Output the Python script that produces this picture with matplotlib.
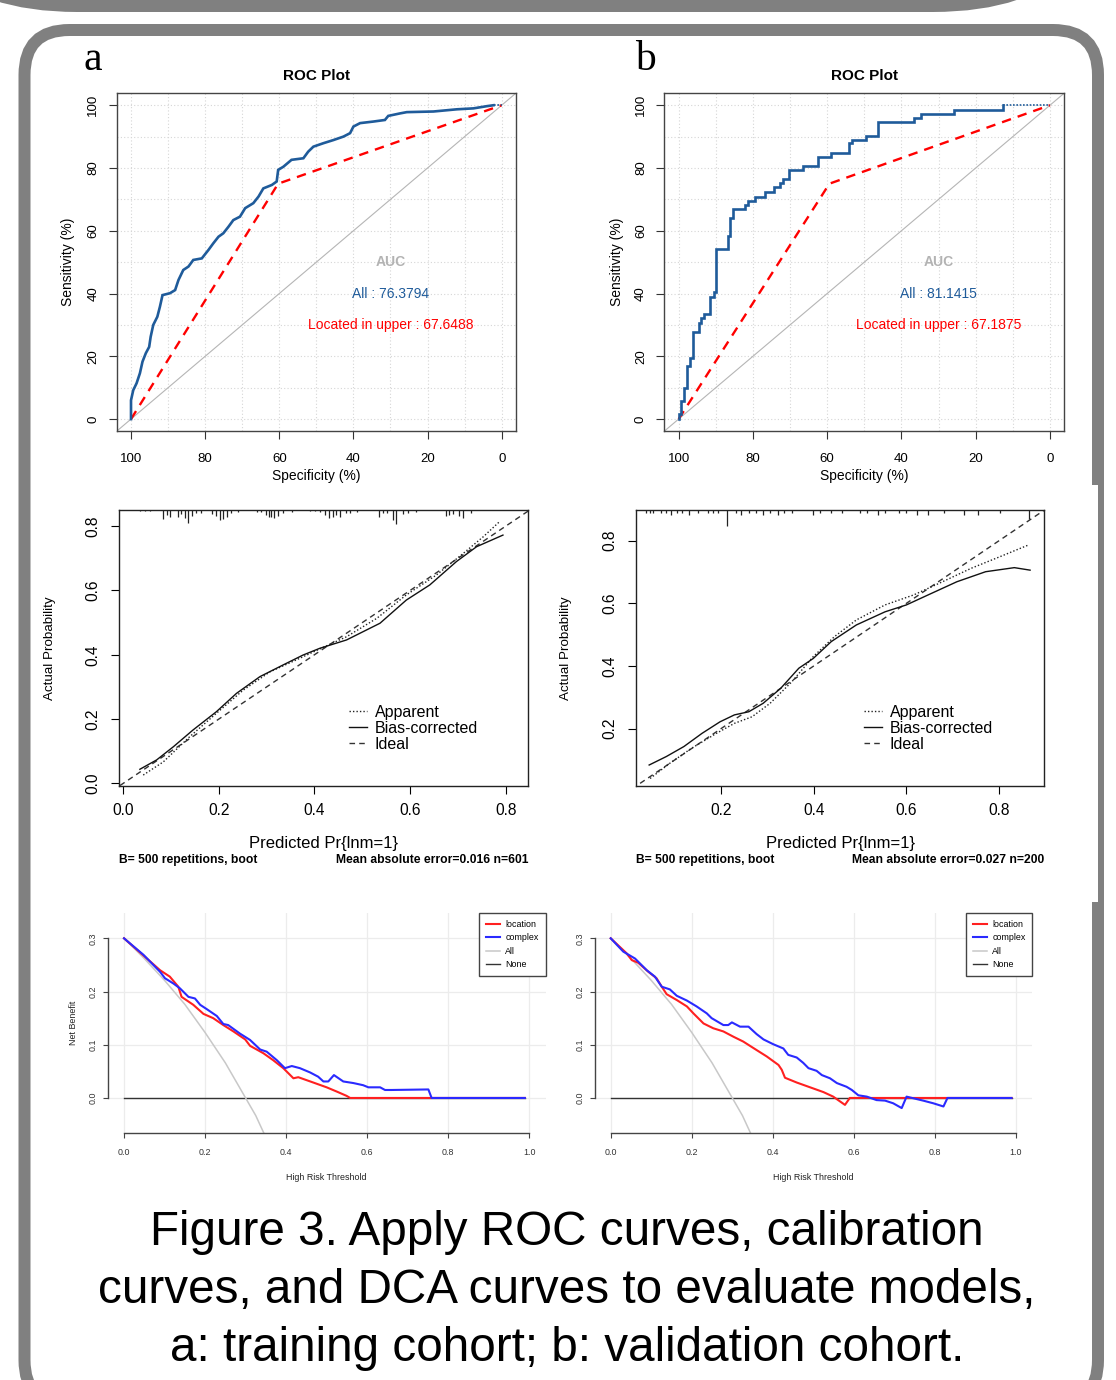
import matplotlib
matplotlib.use("Agg")
import matplotlib.pyplot as plt
from matplotlib.patches import FancyBboxPatch, Rectangle
from matplotlib import font_manager

# ---------------- data ----------------
# ROC (a: training, b: validation) -- specificity / sensitivity in %
ROC_A_SPEC = [100, 100, 99.4, 98.5, 97.6, 96.9, 96.0, 95.1, 94.7, 94.0, 92.9, 92.2, 91.5, 89.5, 88.1,
              87.2, 85.9, 84.5, 83.2, 80.9, 79.1, 77.8, 76.4, 75.1, 73.7, 72.4, 70.6, 69.2, 67.0, 65.6,
              64.3, 62.0, 60.7, 60.3, 58.9, 56.7, 53.5, 52.2, 50.8, 48.1, 45.4, 42.7, 40.9, 40.0, 38.2,
              34.6, 31.5, 30.6, 27.4, 25.6, 18.4, 12.1, 7.6, 4.0, 2.2]
ROC_A_SENS = [0, 6.0, 9.2, 11.4, 14.6, 18.3, 21.0, 23.0, 26.2, 30.0, 32.6, 35.8, 39.5, 40.1, 41.1,
              44.3, 47.5, 48.6, 50.7, 51.2, 53.9, 56.0, 58.1, 59.2, 61.3, 63.4, 64.5, 67.2, 68.8, 70.9,
              73.5, 74.6, 75.7, 79.4, 80.4, 82.6, 83.1, 85.2, 86.8, 87.9, 88.9, 90.0, 91.1, 93.2, 94.3,
              94.8, 95.3, 96.6, 97.4, 97.8, 98.0, 98.7, 99.0, 99.7, 100]
ROC_A_TAIL_SPEC = [2.2, 0]
ROC_A_TAIL_SENS = [100, 100]

ROC_B_SPEC = [100, 100, 99.3, 98.5, 97.8, 97.0, 96.0, 94.4, 94.0, 93.1, 91.5, 90.6, 89.9, 86.8, 86.1,
              85.3, 82.0, 81.4, 79.3, 76.7, 74.2, 72.8, 71.9, 70.3, 66.5, 62.5, 58.9, 54.0, 53.2, 49.5,
              46.3, 36.7, 34.6, 25.9, 12.6]
ROC_B_SENS = [0, 1.5, 5.7, 9.8, 16.9, 19.6, 27.8, 30.5, 32.1, 33.5, 39.0, 40.4, 54.1, 58.3, 64.0,
              66.8, 68.2, 69.6, 70.9, 72.4, 73.9, 75.1, 76.5, 79.4, 80.7, 83.4, 84.7, 87.9, 88.9, 90.2,
              94.5, 95.9, 97.2, 98.5, 100]
ROC_B_TAIL_SPEC = [12.6, 0]
ROC_B_TAIL_SENS = [100, 100]

UPPER_A_SPEC = [100, 60.3, 0]
UPPER_A_SENS = [0, 75.0, 100]
UPPER_B_SPEC = [100, 59.4, 0]
UPPER_B_SENS = [0, 75.0, 100]

AUC_A = ["All : 76.3794", "Located in upper : 67.6488"]
AUC_B = ["All : 81.1415", "Located in upper : 67.1875"]

# Calibration curves
CAL_A_AP_X = [0.042, 0.084, 0.139, 0.195, 0.251, 0.307, 0.362, 0.411, 0.467, 0.530, 0.592, 0.655, 0.711, 0.753, 0.787]
CAL_A_AP_Y = [0.026, 0.067, 0.145, 0.218, 0.290, 0.347, 0.384, 0.418, 0.456, 0.513, 0.586, 0.648, 0.715, 0.767, 0.814]
CAL_A_BC_X = [0.035, 0.070, 0.105, 0.146, 0.195, 0.237, 0.286, 0.334, 0.376, 0.411, 0.467, 0.537, 0.592, 0.641, 0.697, 0.739, 0.794]
CAL_A_BC_Y = [0.044, 0.073, 0.114, 0.166, 0.223, 0.280, 0.332, 0.368, 0.399, 0.420, 0.446, 0.498, 0.570, 0.617, 0.690, 0.736, 0.772]
RUG_A_X = [0.035, 0.045, 0.056, 0.084, 0.092, 0.098, 0.114, 0.121, 0.129, 0.136, 0.144, 0.153, 0.162, 0.185, 0.195,
           0.202, 0.209, 0.217, 0.226, 0.240, 0.279, 0.289, 0.298, 0.304, 0.309, 0.315, 0.324, 0.334, 0.352, 0.390,
           0.401, 0.411, 0.422, 0.430, 0.438, 0.445, 0.454, 0.465, 0.475, 0.488, 0.535, 0.544, 0.551, 0.564, 0.571,
           0.585, 0.596, 0.613, 0.675, 0.682, 0.689, 0.702, 0.711, 0.728]
RUG_A_FREQ = [1.3, 1.3, 1.3, 9, 5, 7, 7, 4, 8, 13, 6, 3, 3, 4, 6, 10, 9, 7, 3, 2, 2, 2, 5, 7, 7, 8, 6, 3, 2, 1.3,
              1.3, 2, 5, 8, 7, 5, 7, 3, 3, 2, 7, 3, 3, 10, 14, 4, 3, 2, 6, 5, 4, 6, 8, 3]

CAL_B_AP_X = [0.047, 0.089, 0.136, 0.190, 0.229, 0.267, 0.306, 0.353, 0.399, 0.445, 0.492, 0.554, 0.616, 0.678, 0.740, 0.802, 0.863]
CAL_B_AP_Y = [0.041, 0.089, 0.137, 0.185, 0.217, 0.238, 0.281, 0.350, 0.430, 0.494, 0.547, 0.595, 0.627, 0.669, 0.712, 0.749, 0.786]
CAL_B_BC_X = [0.045, 0.082, 0.120, 0.159, 0.198, 0.229, 0.260, 0.291, 0.329, 0.368, 0.399, 0.438, 0.492, 0.554, 0.600,
              0.647, 0.709, 0.771, 0.833, 0.867]
CAL_B_BC_Y = [0.084, 0.111, 0.143, 0.185, 0.222, 0.244, 0.254, 0.281, 0.329, 0.393, 0.424, 0.478, 0.531, 0.573, 0.595,
              0.627, 0.669, 0.701, 0.714, 0.706]
RUG_B_X = [0.039, 0.047, 0.054, 0.070, 0.082, 0.093, 0.105, 0.116, 0.132, 0.151, 0.171, 0.182, 0.194, 0.213, 0.233,
           0.244, 0.260, 0.275, 0.291, 0.306, 0.322, 0.337, 0.353, 0.399, 0.414, 0.438, 0.461, 0.500, 0.515, 0.538,
           0.554, 0.585, 0.600, 0.623, 0.647, 0.682, 0.724, 0.755, 0.802, 0.864]
RUG_B_FREQ = [2.5, 2.5, 2.5, 3, 3, 4.5, 3, 3, 4.5, 3, 3, 3, 3, 16, 3, 4.5, 3, 3, 4.5, 3, 5, 3, 3, 4.5, 3, 3, 3, 3, 3, 4.5,
              3, 3, 3, 4.5, 4.5, 3, 4.5, 4.5, 3, 9]
CAL_NOTES_A = ["B= 500 repetitions, boot", "Mean absolute error=0.016 n=601"]
CAL_NOTES_B = ["B= 500 repetitions, boot", "Mean absolute error=0.027 n=200"]

# Decision curves
DCA_ALL_X = [0.0, 0.05, 0.10, 0.15, 0.20, 0.25, 0.30, 0.325, 0.345]
DCA_ALL_Y = [0.300, 0.262, 0.221, 0.176, 0.123, 0.066, 0.0, -0.033, -0.066]
DCA_NONE_X = [0.0, 0.99]
DCA_NONE_Y = [0.0, 0.0]

DCA_A_LOC_X = [0, 0.052, 0.089, 0.113, 0.134, 0.142, 0.171, 0.196, 0.220, 0.245, 0.270, 0.299, 0.311, 0.344,
               0.368, 0.393, 0.418, 0.430, 0.467, 0.500, 0.525, 0.549, 0.558, 0.989]
DCA_A_LOC_Y = [0.300, 0.265, 0.240, 0.228, 0.209, 0.190, 0.175, 0.158, 0.150, 0.137, 0.125, 0.110, 0.098, 0.084,
               0.071, 0.056, 0.037, 0.039, 0.029, 0.020, 0.012, 0.004, 0.0, 0.0]
DCA_A_CPX_X = [0, 0.048, 0.089, 0.101, 0.122, 0.138, 0.159, 0.175, 0.188, 0.204, 0.229, 0.245, 0.257, 0.286,
               0.311, 0.336, 0.352, 0.377, 0.397, 0.414, 0.434, 0.459, 0.479, 0.492, 0.504, 0.518, 0.541, 0.566,
               0.590, 0.603, 0.632, 0.644, 0.660, 0.751, 0.759, 0.989]
DCA_A_CPX_Y = [0.300, 0.269, 0.237, 0.225, 0.215, 0.206, 0.190, 0.187, 0.175, 0.167, 0.154, 0.139, 0.137, 0.121,
               0.109, 0.091, 0.087, 0.071, 0.056, 0.060, 0.056, 0.048, 0.040, 0.031, 0.031, 0.043, 0.031, 0.028,
               0.024, 0.020, 0.020, 0.015, 0.015, 0.016, 0.0, 0.0]

DCA_B_LOC_X = [0, 0.039, 0.052, 0.068, 0.093, 0.113, 0.126, 0.138, 0.163, 0.188, 0.204, 0.229, 0.253, 0.278,
               0.303, 0.327, 0.360, 0.385, 0.414, 0.422, 0.430, 0.459, 0.492, 0.525, 0.549, 0.578, 0.590, 0.989]
DCA_B_LOC_Y = [0.300, 0.272, 0.259, 0.254, 0.237, 0.225, 0.209, 0.195, 0.184, 0.172, 0.159, 0.140, 0.131, 0.125,
               0.115, 0.106, 0.090, 0.078, 0.062, 0.053, 0.038, 0.029, 0.020, 0.011, 0.0025, -0.013, 0.0, 0.0]
DCA_B_CPX_X = [0, 0.031, 0.060, 0.089, 0.109, 0.126, 0.146, 0.163, 0.188, 0.212, 0.237, 0.249, 0.278, 0.290,
               0.299, 0.319, 0.340, 0.360, 0.377, 0.401, 0.426, 0.438, 0.459, 0.475, 0.488, 0.508, 0.521, 0.541,
               0.558, 0.582, 0.595, 0.611, 0.632, 0.656, 0.677, 0.697, 0.718, 0.730, 0.747, 0.771, 0.796, 0.821,
               0.831, 0.989]
DCA_B_CPX_Y = [0.300, 0.275, 0.262, 0.240, 0.228, 0.209, 0.204, 0.192, 0.183, 0.172, 0.159, 0.150, 0.137, 0.137,
               0.142, 0.134, 0.134, 0.120, 0.110, 0.101, 0.093, 0.081, 0.076, 0.066, 0.056, 0.051, 0.043, 0.037,
               0.028, 0.021, 0.015, 0.005, 0.0025, -0.004, -0.005, -0.010, -0.019, 0.0025, -0.0006, -0.005,
               -0.010, -0.016, 0.0, 0.0]
DCA_LABELS = ["location", "complex", "All", "None"]

CAPTION = ["Figure 3. Apply ROC curves, calibration",
           "curves, and DCA curves to evaluate models,",
           "a: training cohort; b: validation cohort."]

# ---------------- fonts ----------------
names = {f.name for f in font_manager.fontManager.ttflist}
SANS = "Liberation Sans" if "Liberation Sans" in names else "DejaVu Sans"
NARROW = "Liberation Sans Narrow" if "Liberation Sans Narrow" in names else SANS
SERIF = "Liberation Serif" if "Liberation Serif" in names else "DejaVu Serif"
plt.rcParams["font.family"] = [SANS, "DejaVu Sans"]
DCA_FS = 7.2 if NARROW != SANS else 6.4

W, H = 1116, 1380
fig = plt.figure(figsize=(W / 100, H / 100), dpi=100)
PT = 72 / 100  # points per pixel


def px_box(l, t, r, b):
    return [l / W, 1 - b / H, (r - l) / W, (b - t) / H]


# ---------------- background frame ----------------
bg = fig.add_axes([0, 0, 1, 1], zorder=0)
bg.set_xlim(0, W)
bg.set_ylim(H, 0)
bg.axis("off")
GRAY = "#808080"
bg.add_patch(FancyBboxPatch((-116, -400), 1242, 412, boxstyle="round,pad=0,rounding_size=193",
                            fc=GRAY, ec="none"))
bg.add_patch(FancyBboxPatch((24.5, 30), 1073.5, 1375, boxstyle="round,pad=0,rounding_size=45",
                            fc="white", ec=GRAY, lw=12 * PT))
bg.add_patch(Rectangle((1091, 485), 7, 417, fc="white", ec="none"))

for letter, x in (("a", 93), ("b", 645)):
    bg.text(x, 70, letter, family=SERIF, fontsize=30, ha="center", va="baseline", color="black")

for i, line in enumerate(CAPTION):
    bg.text(567, 1245 + i * 58, line, fontsize=34.3, ha="center", va="baseline", color="black")

# ---------------- ROC panels ----------------
BLUE = "#1f5b9a"
RED = "#ff0000"


def roc_panel(box, spec, sens, tail_spec, tail_sens, up_spec, up_sens, auc_txt, stepped, ylab_x):
    ax = fig.add_axes(px_box(*box))
    ax.set_xlim(103.86, -3.86)
    ax.set_ylim(-3.8, 103.8)
    for v in range(0, 101, 10):
        ax.axvline(v, color="#d6d6d6", lw=0.8, ls=(0, (1, 2)), zorder=0)
        ax.axhline(v, color="#d6d6d6", lw=0.8, ls=(0, (1, 2)), zorder=0)
    ax.plot([103.86, -3.86], [-3.86, 103.86], color="#b5b5b5", lw=0.8, zorder=1)
    ax.plot(up_spec, up_sens, color=RED, lw=1.7, ls=(0, (4, 3)), zorder=2)
    ax.plot(spec, sens, color=BLUE, lw=1.9, drawstyle="steps-post" if stepped else "default",
            solid_joinstyle="miter", zorder=3)
    ax.plot(tail_spec, tail_sens, color=BLUE, lw=1.2, ls=(0, (1, 1)), zorder=3)
    ax.text(30, 50, "AUC", color="#b3b3b3", fontsize=10, fontweight="bold", ha="center", va="center")
    ax.text(30, 40, auc_txt[0], color=BLUE, fontsize=10, ha="center", va="center")
    ax.text(30, 30, auc_txt[1], color=RED, fontsize=10, ha="center", va="center")
    ax.set_xticks([100, 80, 60, 40, 20, 0])
    ax.set_yticks([0, 20, 40, 60, 80, 100])
    ax.tick_params(length=5.5, width=0.8, color="#333333", labelsize=9.5)
    ax.tick_params(axis="x", pad=10.5)
    ax.tick_params(axis="y", pad=7)
    for lab in ax.get_yticklabels():
        lab.set_rotation(90)
        lab.set_va("center")
    for s in ax.spines.values():
        s.set_color("#444444")
        s.set_linewidth(1.0)
    ax.set_title("ROC Plot", fontsize=11, fontweight="bold", pad=0, y=1.039)
    ax.set_xlabel("Specificity (%)", fontsize=10, va="center")
    ax.xaxis.set_label_coords(0.5, (box[3] - 476) / (box[3] - box[1]))
    ax.set_ylabel("Sensitivity (%)", fontsize=10, va="center")
    ax.yaxis.set_label_coords((ylab_x - box[0]) / (box[2] - box[0]), 0.5)
    return ax


roc_panel((116.7, 93.3, 516, 431), ROC_A_SPEC, ROC_A_SENS, ROC_A_TAIL_SPEC, ROC_A_TAIL_SENS,
          UPPER_A_SPEC, UPPER_A_SENS, AUC_A, False, 68)
roc_panel((664.3, 93.3, 1064.3, 431), ROC_B_SPEC, ROC_B_SENS, ROC_B_TAIL_SPEC, ROC_B_TAIL_SENS,
          UPPER_B_SPEC, UPPER_B_SENS, AUC_B, True, 617)


# ---------------- calibration panels ----------------
def cal_panel(box, lims, xt, yt, ap_x, ap_y, bc_x, bc_y, rug_x, rug_f, notes, leg_x, ylab_x):
    ax = fig.add_axes(px_box(*box))
    ax.set_xlim(lims[0], lims[1])
    ax.set_ylim(lims[2], lims[3])
    wpx = box[2] - box[0]
    hpx = box[3] - box[1]
    ideal, = ax.plot([-1, 2], [-1, 2], color="#333333", lw=1.0, ls=(0, (4, 3)), label="Ideal")
    app, = ax.plot(ap_x, ap_y, color="#222222", lw=1.0, ls=(0, (1, 1.5)), label="Apparent")
    bc, = ax.plot(bc_x, bc_y, color="#111111", lw=1.0, label="Bias-corrected")
    ax.vlines(rug_x, [1 - f / hpx for f in rug_f], 1, transform=ax.get_xaxis_transform(),
              color="#222222", lw=0.9)
    ax.set_xticks(xt)
    ax.set_xticklabels(["%.1f" % v for v in xt])
    ax.set_yticks(yt)
    ax.set_yticklabels(["%.1f" % v for v in yt])
    ax.tick_params(axis="x", length=5.5, width=0.8, labelsize=11.2, pad=7)
    ax.tick_params(axis="y", length=5.5, width=0.8, labelsize=11.2, pad=8)
    for lab in ax.get_yticklabels():
        lab.set_rotation(90)
        lab.set_va("center")
    for s in ax.spines.values():
        s.set_color("#222222")
        s.set_linewidth(1.0)
    ax.set_xlabel("Predicted Pr{lnm=1}", fontsize=12, va="center")
    ax.xaxis.set_label_coords(0.5, (box[3] - 843) / hpx)
    ax.set_ylabel("Actual Probability", fontsize=9.6, va="center")
    ax.yaxis.set_label_coords((ylab_x - box[0]) / wpx, 0.5)
    ax.text(0, (box[3] - 860) / hpx, notes[0], transform=ax.transAxes, fontsize=8.7, fontweight="bold",
            ha="left", va="center")
    ax.text(1, (box[3] - 860) / hpx, notes[1], transform=ax.transAxes, fontsize=8.7, fontweight="bold",
            ha="right", va="center")
    ax.legend(handles=[app, bc, ideal], loc="upper left",
              bbox_to_anchor=((leg_x - box[0]) / wpx, (box[3] - 705) / hpx),
              frameon=False, fontsize=11.5, handlelength=1.1, handletextpad=0.5, labelspacing=0.05,
              borderpad=0, borderaxespad=0)
    return ax


cal_panel((119.3, 510, 528.3, 786), (-0.008, 0.847, -0.008, 0.85), [0.0, 0.2, 0.4, 0.6, 0.8],
          [0.0, 0.2, 0.4, 0.6, 0.8], CAL_A_AP_X, CAL_A_AP_Y, CAL_A_BC_X, CAL_A_BC_Y, RUG_A_X, RUG_A_FREQ,
          CAL_NOTES_A, 349, 50)
cal_panel((636, 510, 1044, 786), (0.0166, 0.897, 0.017, 0.898), [0.2, 0.4, 0.6, 0.8],
          [0.2, 0.4, 0.6, 0.8], CAL_B_AP_X, CAL_B_AP_Y, CAL_B_BC_X, CAL_B_BC_Y, RUG_B_X, RUG_B_FREQ,
          CAL_NOTES_B, 864, 566)


# ---------------- DCA panels ----------------
def dca_panel(box, loc_x, loc_y, cpx_x, cpx_y, show_ylabel):
    ax = fig.add_axes(px_box(*box))
    ax.set_xlim(-0.04, 1.04)
    ax.set_ylim(-0.0664, 0.347)
    ax.set_xticks([0.0, 0.2, 0.4, 0.6, 0.8, 1.0])
    ax.set_xticklabels(["0.0", "0.2", "0.4", "0.6", "0.8", "1.0"])
    ax.set_yticks([0.0, 0.1, 0.2, 0.3])
    ax.set_yticklabels(["0.0", "0.1", "0.2", "0.3"])
    ax.grid(True, color="#ececec", lw=0.9)
    ax.set_axisbelow(True)
    for k in ("top", "right"):
        ax.spines[k].set_visible(False)
    ax.spines["left"].set_bounds(0, 0.3)
    ax.spines["bottom"].set_bounds(0, 1.0)
    for k in ("left", "bottom"):
        ax.spines[k].set_color("#444444")
        ax.spines[k].set_linewidth(1.0)
    ax.tick_params(axis="x", length=3.6, width=0.8, color="#444444", labelsize=DCA_FS, pad=7,
                   labelcolor="#333333")
    ax.tick_params(axis="y", length=3.6, width=0.8, color="#444444", labelsize=DCA_FS, pad=3.5,
                   labelcolor="#333333")
    for lab in ax.get_xticklabels() + ax.get_yticklabels():
        lab.set_family([NARROW, SANS])
    for lab in ax.get_yticklabels():
        lab.set_rotation(90)
        lab.set_va("center")
    nn, = ax.plot(DCA_NONE_X, DCA_NONE_Y, color="#333333", lw=1.0, label=DCA_LABELS[3])
    al, = ax.plot(DCA_ALL_X, DCA_ALL_Y, color="#c8c8c8", lw=1.1, label=DCA_LABELS[2])
    lo, = ax.plot(loc_x, loc_y, color="#ff2020", lw=1.5, label=DCA_LABELS[0])
    cp, = ax.plot(cpx_x, cpx_y, color="#2a2aff", lw=1.5, label=DCA_LABELS[1])
    hpx = box[3] - box[1]
    ax.set_xlabel("High Risk Threshold", fontsize=DCA_FS, family=[NARROW, SANS],
                  color="#222222", va="center")
    ax.xaxis.set_label_coords(0.5, (box[3] - 1178) / hpx)
    if show_ylabel:
        ax.set_ylabel("Net Benefit", fontsize=DCA_FS, family=[NARROW, SANS],
                      color="#222222", va="center")
        ax.yaxis.set_label_coords((73 - box[0]) / (box[2] - box[0]), 0.5)
    leg = ax.legend(handles=[lo, cp, al, nn], loc="upper right", bbox_to_anchor=(1.0, 1.0),
                    frameon=True, fancybox=False, edgecolor="#444444", framealpha=1,
                    prop={"family": [NARROW, SANS], "size": DCA_FS},
                    handlelength=1.6, handletextpad=0.6, labelspacing=0.5, borderpad=0.75,
                    borderaxespad=0)
    leg.get_frame().set_linewidth(1.0)
    return ax


dca_panel((107.8, 913.3, 545.5, 1133.3), DCA_A_LOC_X, DCA_A_LOC_Y, DCA_A_CPX_X, DCA_A_CPX_Y, True)
dca_panel((594.5, 913.3, 1032.2, 1133.3), DCA_B_LOC_X, DCA_B_LOC_Y, DCA_B_CPX_X, DCA_B_CPX_Y, False)

fig.savefig("out.png", dpi=100)
